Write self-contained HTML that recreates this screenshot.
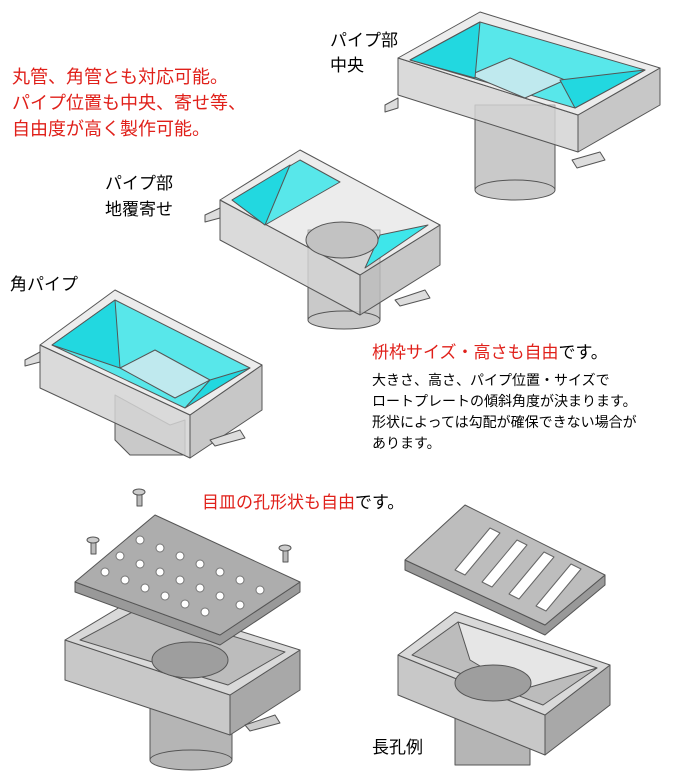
<!DOCTYPE html>
<html><head><meta charset="utf-8"><style>
body{margin:0;background:#fff;width:691px;height:773px;overflow:hidden;position:relative;font-family:"Liberation Sans","Noto Sans CJK JP",sans-serif}
.t{position:absolute;white-space:nowrap;color:#000}
.r{color:#e0201a}
svg{position:absolute;left:0;top:0}
</style></head><body>
<svg width="691" height="773" viewBox="0 0 691 773">
<g stroke="#555" stroke-width="1" stroke-linejoin="round">
<!-- Box1 -->
<rect x="475" y="105" width="80" height="85" fill="#c9c9c9"/><ellipse cx="515" cy="190" rx="40" ry="10" fill="#c9c9c9"/>
<polygon points="398,58 398,95 578,152 578,115" fill="#d4d4d4" fill-opacity=".85"/>
<polygon points="578,115 578,152 660,105 660,68" fill="#bdbdbd" fill-opacity=".85"/>
<polygon points="398,58 480,12 660,68 578,115" fill="#e0e0e0" fill-opacity=".6"/>
<polygon points="410,60 480,22 645,70 575,108" fill="#3ee6ea" fill-opacity=".85"/>
<polygon points="470,75 510,58 565,80 525,98" fill="#bfe9ee"/>
<polygon points="410,60 475,78 480,22" fill="#22d8e0"/>
<polygon points="560,80 645,70 575,108" fill="#22d8e0"/>
<polygon points="572,160 600,152 605,160 577,168" fill="#ddd"/>
<polygon points="385,105 398,98 398,108 385,112" fill="#ddd"/>
<!-- Box2 -->
<rect x="308" y="230" width="72" height="90" fill="#c9c9c9"/><ellipse cx="344" cy="320" rx="36" ry="9" fill="#c9c9c9"/>
<polygon points="220,200 220,240 360,315 360,275" fill="#d4d4d4" fill-opacity=".85"/>
<polygon points="360,275 360,315 440,265 440,225" fill="#bdbdbd" fill-opacity=".85"/>
<polygon points="220,200 300,150 440,225 360,275" fill="#e0e0e0" fill-opacity=".6"/>
<polygon points="232,200 300,160 340,182 265,225" fill="#3ee6ea" fill-opacity=".85"/>
<polygon points="232,200 265,225 290,165" fill="#22d8e0"/>
<polygon points="380,235 428,225 365,268" fill="#3ee6ea"/>
<ellipse cx="342" cy="240" rx="36" ry="18" fill="#c2c2c2"/>
<polygon points="205,215 220,208 220,218 205,222" fill="#ddd"/>
<polygon points="395,300 425,290 430,298 400,306" fill="#ddd"/>
<!-- Box3 -->
<polygon points="115,395 170,425 185,420 185,455 130,455 115,440" fill="#c9c9c9"/>
<polygon points="40,345 40,388 190,458 190,415" fill="#d4d4d4" fill-opacity=".85"/>
<polygon points="190,415 190,458 262,410 262,365" fill="#bdbdbd" fill-opacity=".85"/>
<polygon points="40,345 115,290 262,365 190,415" fill="#e0e0e0" fill-opacity=".6"/>
<polygon points="52,345 115,300 250,368 185,408" fill="#3ee6ea" fill-opacity=".85"/>
<polygon points="52,345 120,368 115,300" fill="#22d8e0"/>
<polygon points="210,380 250,368 185,408" fill="#22d8e0"/>
<polygon points="120,368 155,350 210,380 175,398" fill="#bfe9ee"/>
<polygon points="25,360 40,352 40,362 25,366" fill="#ddd"/>
<polygon points="210,440 240,430 245,438 215,446" fill="#ddd"/>
<!-- bottom-left -->
<rect x="150" y="660" width="82" height="100" fill="#b5b5b5"/><ellipse cx="191" cy="760" rx="41" ry="10" fill="#b5b5b5"/>
<polygon points="65,640 65,680 230,735 230,695" fill="#c8c8c8"/>
<polygon points="230,695 230,735 300,690 300,650" fill="#a8a8a8"/>
<polygon points="65,640 135,598 300,650 230,695" fill="#d9d9d9"/>
<polygon points="80,640 140,608 285,652 228,685" fill="#bcbcbc"/>
<ellipse cx="190" cy="660" rx="38" ry="18" fill="#9e9e9e"/>
<polygon points="245,725 275,715 280,723 250,731" fill="#ccc"/>
<polygon points="75,582 75,592 220,645 300,592 300,582 220,635" fill="#999"/>
<polygon points="75,582 155,515 300,582 220,635" fill="#adadad"/>
<g fill="#fff" stroke="#777">
<circle cx="140" cy="540" r="4"/><circle cx="160" cy="548" r="4"/><circle cx="180" cy="556" r="4"/><circle cx="200" cy="564" r="4"/><circle cx="220" cy="572" r="4"/><circle cx="240" cy="580" r="4"/>
<circle cx="120" cy="556" r="4"/><circle cx="140" cy="564" r="4"/><circle cx="160" cy="572" r="4"/><circle cx="180" cy="580" r="4"/><circle cx="200" cy="588" r="4"/><circle cx="220" cy="596" r="4"/><circle cx="260" cy="590" r="4"/>
<circle cx="105" cy="572" r="4"/><circle cx="125" cy="580" r="4"/><circle cx="145" cy="588" r="4"/><circle cx="165" cy="596" r="4"/><circle cx="185" cy="604" r="4"/><circle cx="205" cy="612" r="4"/><circle cx="240" cy="605" r="4"/>
</g>
<rect x="137" y="492" width="5" height="14" fill="#bbb"/><ellipse cx="139" cy="492" rx="6" ry="3" fill="#ccc"/>
<rect x="91" y="540" width="5" height="14" fill="#bbb"/><ellipse cx="93" cy="540" rx="6" ry="3" fill="#ccc"/>
<rect x="283" y="548" width="5" height="14" fill="#bbb"/><ellipse cx="285" cy="548" rx="6" ry="3" fill="#ccc"/>
<!-- bottom-right -->
<rect x="455" y="680" width="75" height="85" fill="#b5b5b5"/>
<polygon points="398,655 398,695 545,755 545,715" fill="#c8c8c8"/>
<polygon points="545,715 545,755 610,705 610,665" fill="#a8a8a8"/>
<polygon points="398,655 455,612 610,665 545,715" fill="#d9d9d9"/>
<polygon points="412,655 458,622 597,668 543,705" fill="#bcbcbc"/>
<polygon points="458,622 597,668 520,690 470,660" fill="#e6e6e6"/>
<ellipse cx="493" cy="683" rx="38" ry="18" fill="#9e9e9e"/>
<polygon points="405,560 405,570 545,635 605,585 605,575 545,625" fill="#999"/>
<polygon points="405,560 465,505 605,575 545,625" fill="#bdbdbd"/>
<g fill="#fff" stroke="#666">
<polygon points="455,570 490,528 500,533 465,575" /><polygon points="482,582 517,540 527,545 492,587"/><polygon points="509,594 544,552 554,557 519,599"/><polygon points="536,606 571,564 581,569 546,611"/>
</g>
</g>
</svg>
<div class="t r" style="left:12px;top:64px;font-size:18px;line-height:26px">丸管、角管とも対応可能。<br>パイプ位置も中央、寄せ等、<br>自由度が高く製作可能。</div>
<div class="t" style="left:330px;top:28px;font-size:17px;line-height:25px">パイプ部<br>中央</div>
<div class="t" style="left:105px;top:171px;font-size:17px;line-height:26px">パイプ部<br>地覆寄せ</div>
<div class="t" style="left:10px;top:270px;font-size:17px">角パイプ</div>
<div class="t" style="left:372px;top:338px;font-size:17px"><span class="r">枡枠サイズ・高さも自由</span>です。</div>
<div class="t" style="left:372px;top:370px;font-size:14px;line-height:21px">大きさ、高さ、パイプ位置・サイズで<br>ロートプレートの傾斜角度が決まります。<br>形状によっては勾配が確保できない場合が<br>あります。</div>
<div class="t" style="left:202px;top:488px;font-size:17px"><span class="r">目皿の孔形状も自由</span>です。</div>
<div class="t" style="left:372px;top:733px;font-size:17px">長孔例</div>
</body></html>
